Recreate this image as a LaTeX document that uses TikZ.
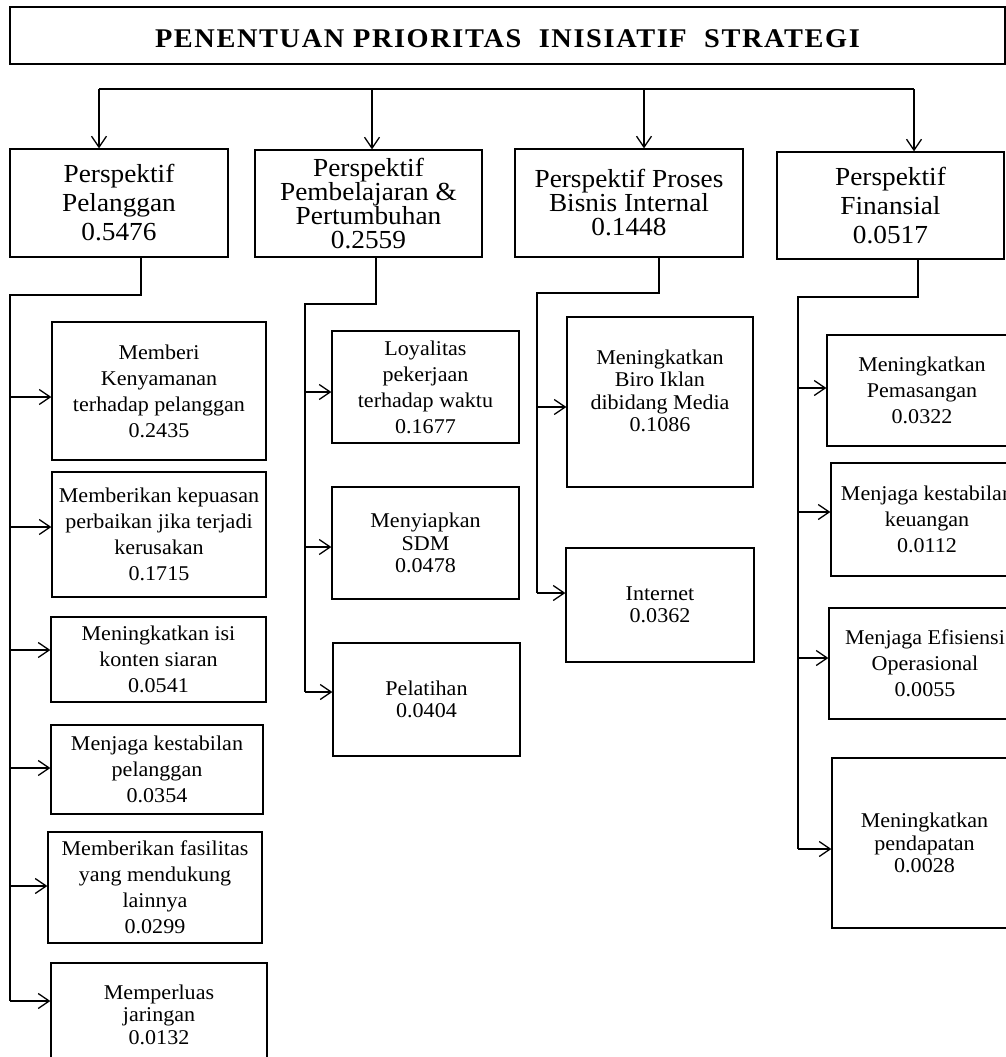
\documentclass[tikz,border=0pt]{standalone}
\usepackage{fontspec}
\setmainfont{Liberation Serif}[FakeStretch=1.05]
\usetikzlibrary{arrows.meta}

\tikzset{
  box/.style={draw, line width=1.3pt, inner sep=0pt, align=center},
  persp/.style={box, font=\fontsize{26}{29}\selectfont},
  persptight/.style={box, font=\fontsize{26}{24}\selectfont},
  leaf/.style={box, font=\fontsize{21}{26}\selectfont},
  leaftight/.style={box, font=\fontsize{21}{22.5}\selectfont},
  link/.style={line width=1.3pt},
}

\begin{document}
\begin{tikzpicture}[x=1pt,y=-1pt,>={Straight Barb[length=11pt,width=15pt]}]
  \useasboundingbox (0,0) rectangle (1006,1057);
  \clip (0,0) rectangle (1006,1057);
  \node[box, minimum width=995, minimum height=57, text height=25pt, text depth=0pt,
        font=\fontsize{27}{30}\selectfont\bfseries\addfontfeature{LetterSpace=6}]
        (title) at (507.5,35.5) {PENENTUAN PRIORITAS\ \ INISIATIF\ \ STRATEGI};
  \node[persp, minimum width=218, minimum height=108] (p1) at (119,203) {Perspektif\\Pelanggan\\0.5476};
  \node[persptight, minimum width=227, minimum height=107] (p2) at (368.5,203.5) {Perspektif\\Pembelajaran \&\\Pertumbuhan\\0.2559};
  \node[persptight, minimum width=228, minimum height=108] (p3) at (629,203) {Perspektif Proses\\Bisnis Internal\\0.1448};
  \node[persp, minimum width=227, minimum height=107] (p4) at (890.5,205.5) {Perspektif\\Finansial\\0.0517};

  \node[leaf, minimum width=214, minimum height=138] (c1) at (159,391) {Memberi\\Kenyamanan\\terhadap pelanggan\\0.2435};
  \node[leaf, minimum width=214, minimum height=125] (c2) at (159,534.5) {Memberikan kepuasan\\perbaikan jika terjadi\\kerusakan\\0.1715};
  \node[leaf, minimum width=215, minimum height=85] (c3) at (158.5,659.5) {Meningkatkan isi\\konten siaran\\0.0541};
  \node[leaf, minimum width=212, minimum height=89] (c4) at (157,769.5) {Menjaga kestabilan\\pelanggan\\0.0354};
  \node[leaf, minimum width=214, minimum height=111] (c5) at (155,887.5) {Memberikan fasilitas\\yang mendukung\\lainnya\\0.0299};
  \node[leaftight, minimum width=216, minimum height=103] (c6) at (159,1014.5) {Memperluas\\jaringan\\0.0132};

  \node[leaf, minimum width=187, minimum height=112] (d1) at (425.5,387) {Loyalitas\\pekerjaan\\terhadap waktu\\0.1677};
  \node[leaftight, minimum width=187, minimum height=112] (d2) at (425.5,543) {Menyiapkan\\SDM\\0.0478};
  \node[leaftight, minimum width=187, minimum height=113] (d3) at (426.5,699.5) {Pelatihan\\0.0404};

  \node[leaftight, minimum width=186, minimum height=170] (e1) at (660,402) {Meningkatkan\\Biro Iklan\\dibidang Media\\0.1086\\ \mbox{}};
  \node[leaftight, minimum width=188, minimum height=114] (e2) at (660,605) {Internet\\0.0362};

  \node[leaf, minimum width=190, minimum height=111] (f1) at (922,390.5) {Meningkatkan\\Pemasangan\\0.0322};
  \node[leaf, minimum width=192, minimum height=113] (f2) at (927,519.5) {Menjaga kestabilan\\keuangan\\0.0112};
  \node[leaf, minimum width=192, minimum height=111] (f3) at (925,663.5) {Menjaga Efisiensi\\Operasional\\0.0055};
  \node[leaftight, minimum width=185, minimum height=170] (f4) at (924.5,843) {Meningkatkan\\pendapatan\\0.0028};

  \coordinate (b1) at (99,89); \coordinate (b2) at (372,89);
  \coordinate (b3) at (644,89); \coordinate (b4) at (914,89);
  \draw[line width=2pt] (b1) -- (b4);
  \foreach \b/\p in {b1/p1,b2/p2,b3/p3,b4/p4}
    \draw[link,->] (\b) -- (\b |- \p.north);

  \coordinate (s1) at (141,295); \coordinate (t1) at (10,295);
  \coordinate (s2) at (376,304); \coordinate (t2) at (305,304);
  \coordinate (s3) at (659,293); \coordinate (t3) at (537,293);
  \coordinate (s4) at (918,297); \coordinate (t4) at (798,297);
  \foreach \c/\y in {c1/397,c2/527,c3/650,c4/768,c5/886,c6/1001}
    \draw[link,->] (t1 |- 0,\y) coordinate (a\c) -- (a\c -| \c.west);
  \foreach \c/\y in {d1/392,d2/547,d3/692}
    \draw[link,->] (t2 |- 0,\y) coordinate (a\c) -- (a\c -| \c.west);
  \foreach \c/\y in {e1/407,e2/593}
    \draw[link,->] (t3 |- 0,\y) coordinate (a\c) -- (a\c -| \c.west);
  \foreach \c/\y in {f1/388,f2/512,f3/658,f4/849}
    \draw[link,->] (t4 |- 0,\y) coordinate (a\c) -- (a\c -| \c.west);
  \foreach \i/\last in {1/c6,2/d3,3/e2,4/f4}
    \draw[link] (s\i |- p\i.south) -- (s\i) -- (t\i) -- (a\last);
\end{tikzpicture}
\end{document}
